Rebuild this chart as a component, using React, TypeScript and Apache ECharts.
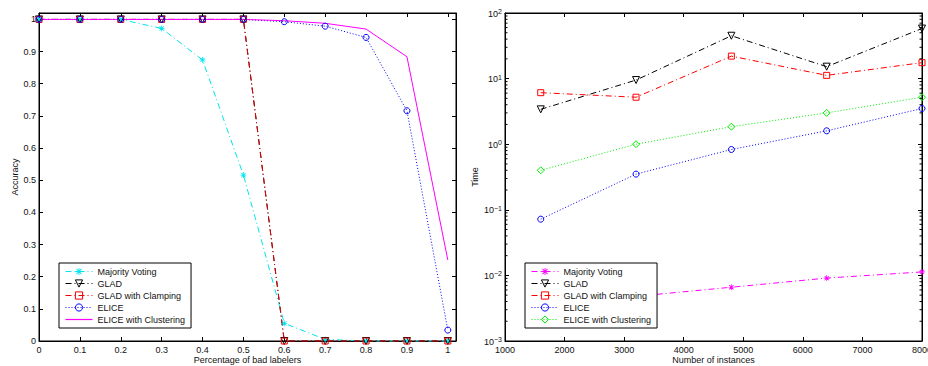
import React, { useEffect, useRef } from 'react';
import * as echarts from 'echarts';

// ---------- Data ----------
const badLabelerPct = [0, 0.1, 0.2, 0.3, 0.4, 0.5, 0.6, 0.7, 0.8, 0.9, 1];
const accMajority = [1, 1, 1, 0.972, 0.874, 0.516, 0.055, 0.005, 0, 0, 0];
const accGlad = [1, 1, 1, 1, 1, 1, 0, 0, 0, 0, 0];
const accGladClamp = [1, 1, 1, 1, 1, 1, 0, 0, 0, 0, 0];
const accElice = [1, 1, 1, 1, 1, 1, 0.993, 0.979, 0.944, 0.716, 0.034];
const accEliceCluster = [1, 1, 1, 1, 1, 1, 0.996, 0.988, 0.97, 0.884, 0.252];

const instances = [1600, 3200, 4800, 6400, 8000];
const timeMajority = [0.003, 0.0048, 0.0066, 0.0091, 0.0113];
const timeGlad = [3.4, 9.5, 45, 15.2, 58];
const timeGladClamp = [6.1, 5.2, 22, 11.2, 17.5];
const timeElice = [0.072, 0.35, 0.83, 1.6, 3.5];
const timeEliceCluster = [0.4, 1.0, 1.85, 3.0, 5.2];

const accTicks = [0, 0.1, 0.2, 0.3, 0.4, 0.5, 0.6, 0.7, 0.8, 0.9, 1];
const instTicks = [1000, 2000, 3000, 4000, 5000, 6000, 7000, 8000];
const timeTicks = [0.001, 0.01, 0.1, 1, 10, 100];
const timeMinorTicks: number[] = [];
for (let d = -3; d < 2; d++) {
  for (let m = 2; m <= 9; m++) timeMinorTicks.push(m * Math.pow(10, d));
}

const legendNames = ['Majority Voting', 'GLAD', 'GLAD with Clamping', 'ELICE', 'ELICE with Clustering'];

// ---------- Styles ----------
const FONT = 'Liberation Sans, Arial, Helvetica, sans-serif';
const TXT = '#111';
const DASHDOT = [6, 3, 1, 3];
const DOTTED = [1, 2];
const ASTERISK =
  'path://M4.4,0h1.2v10h-1.2z M0,4.4h10v1.2h-10z M1.0,1.9 L1.9,1.0 L9.0,8.1 L8.1,9.0z M8.1,1.0 L9.0,1.9 L1.9,9.0 L1.0,8.1z';

function mkSeries(
  name: string,
  xs: number[],
  ys: number[],
  color: string,
  dash: any,
  symbol: string,
  size: number,
  axis: number,
  filled = false,
  rotate = 0
) {
  return {
    type: 'line',
    name,
    xAxisIndex: axis,
    yAxisIndex: axis,
    data: xs.map((x, i) => [x, ys[i]]),
    symbol,
    symbolSize: size,
    symbolRotate: rotate,
    showSymbol: symbol !== 'none',
    lineStyle: { color, width: 1, type: dash },
    itemStyle: filled
      ? { color, borderWidth: 0 }
      : { color: 'rgba(255,255,255,0)', borderColor: color, borderWidth: 1 },
    clip: false,
    z: 2,
  };
}

const axisCommon = {
  axisLine: { show: true, onZero: false, lineStyle: { color: '#000', width: 1 } },
  axisTick: { show: true, inside: true, length: 4, lineStyle: { color: '#000', width: 1 } },
  splitLine: { show: false },
  nameMoveOverlap: false,
  nameTextStyle: { fontFamily: FONT, fontSize: 9, color: TXT },
};

const logRich = {
  b: { fontFamily: FONT, fontSize: 9, color: TXT, verticalAlign: 'bottom', lineHeight: 10 },
  s: { fontFamily: FONT, fontSize: 7, color: TXT, verticalAlign: 'top', lineHeight: 8, padding: [0, 0, 6, 0] },
};

export default function App() {
  const ref = useRef<HTMLDivElement>(null);

  useEffect(() => {
    if (!ref.current) return;
    const chart = echarts.init(ref.current, null, { renderer: 'svg' });

    const gridL = { left: 39, top: 13, width: 417, height: 328 };
    const gridR = { left: 505, top: 13, width: 417, height: 328 };

    const accLabel = (v: number) => String(Math.round(v * 10) / 10);
    const instLabel = (v: number) => String(Math.round(v));
    const logLabel = (v: number) => {
      const e = Math.round(Math.log10(v));
      return '{b|10}{s|' + (e < 0 ? '\u2212' + -e : e) + '}';
    };

    const legendCommon = {
      orient: 'vertical',
      backgroundColor: '#fff',
      borderColor: '#000',
      borderWidth: 1,
      borderRadius: 0,
      padding: [4, 6, 4, 6],
      itemWidth: 27,
      itemHeight: 9,
      itemGap: 3,
      itemStyle: { borderWidth: 1 },
      lineStyle: { width: 1 },
      textStyle: { fontFamily: FONT, fontSize: 9, color: TXT },
      selectedMode: false,
      z: 10,
    };

    const legendData = (suffix: string) =>
      legendNames.map((n, i) => {
        const item: any = { name: n + suffix };
        if (suffix === '' && i === 4) {
          item.icon = 'path://M0,4 L27,4 L27,5.2 L0,5.2 Z';
          item.itemStyle = { color: '#ff00ff', borderWidth: 0 };
        }
        return item;
      });

    const gridCommon = {
      show: true,
      borderColor: '#000',
      borderWidth: 1,
      backgroundColor: 'transparent',
      containLabel: false,
      outerBoundsMode: 'none',
    };

    const option: any = {
      animation: false,
      backgroundColor: '#fff',
      grid: [
        { ...gridL, ...gridCommon },
        { ...gridR, ...gridCommon },
      ],
      xAxis: [
        {
          ...axisCommon,
          type: 'value',
          gridIndex: 0,
          min: 0,
          max: 1.02,
          interval: 0.1,
          axisTick: { ...axisCommon.axisTick, customValues: accTicks },
          axisLabel: {
            customValues: accTicks,
            formatter: accLabel,
            fontFamily: FONT,
            fontSize: 9,
            color: TXT,
            margin: 4,
          },
          name: 'Percentage of bad labelers',
          nameLocation: 'middle',
          nameGap: 14,
        },
        {
          ...axisCommon,
          type: 'value',
          gridIndex: 0,
          position: 'top',
          min: 0,
          max: 1.02,
          interval: 0.1,
          axisTick: { ...axisCommon.axisTick, customValues: accTicks },
          axisLabel: { show: false },
        },
        {
          ...axisCommon,
          type: 'value',
          gridIndex: 1,
          min: 1000,
          max: 8000,
          interval: 1000,
          axisTick: { ...axisCommon.axisTick, customValues: instTicks },
          axisLabel: {
            customValues: instTicks,
            formatter: instLabel,
            fontFamily: FONT,
            fontSize: 9,
            color: TXT,
            margin: 4,
          },
          name: 'Number of instances',
          nameLocation: 'middle',
          nameGap: 14,
        },
        {
          ...axisCommon,
          type: 'value',
          gridIndex: 1,
          position: 'top',
          min: 1000,
          max: 8000,
          interval: 1000,
          axisTick: { ...axisCommon.axisTick, customValues: instTicks },
          axisLabel: { show: false },
        },
      ],
      yAxis: [
        {
          ...axisCommon,
          type: 'value',
          gridIndex: 0,
          min: 0,
          max: 1.02,
          interval: 0.1,
          axisTick: { ...axisCommon.axisTick, customValues: accTicks },
          axisLabel: {
            customValues: accTicks,
            formatter: accLabel,
            fontFamily: FONT,
            fontSize: 9,
            color: TXT,
            margin: 3,
          },
          name: 'Accuracy',
          nameLocation: 'middle',
          nameGap: 20,
          nameRotate: 90,
        },
        {
          ...axisCommon,
          type: 'value',
          gridIndex: 0,
          position: 'right',
          min: 0,
          max: 1.02,
          interval: 0.1,
          axisTick: { ...axisCommon.axisTick, customValues: accTicks },
          axisLabel: { show: false },
        },
        {
          ...axisCommon,
          type: 'log',
          logBase: 10,
          gridIndex: 1,
          min: 0.001,
          max: 100,
          axisTick: { ...axisCommon.axisTick, customValues: timeTicks },
          axisLabel: {
            customValues: timeTicks,
            formatter: logLabel,
            rich: logRich,
            margin: 3,
          },
          name: 'Time',
          nameLocation: 'middle',
          nameGap: 26,
          nameRotate: 90,
        },
        {
          ...axisCommon,
          type: 'log',
          logBase: 10,
          gridIndex: 1,
          position: 'right',
          min: 0.001,
          max: 100,
          axisTick: { ...axisCommon.axisTick, customValues: timeTicks },
          axisLabel: { show: false },
        },
      ],
      legend: [
        {
          ...legendCommon,
          left: 59,
          top: 263,
          data: legendData(''),
        },
        {
          ...legendCommon,
          left: 525,
          top: 263,
          data: legendData('__r'),
          formatter: (n: string) => n.replace('__r', ''),
        },
      ],
      series: [
        mkSeries(legendNames[0], badLabelerPct, accMajority, '#00e5ee', DASHDOT, ASTERISK, 6, 0, true),
        mkSeries(legendNames[1], badLabelerPct, accGlad, '#000000', DASHDOT, 'triangle', 7, 0, false, 180),
        mkSeries(legendNames[2], badLabelerPct, accGladClamp, '#ee0000', DASHDOT, 'rect', 6, 0),
        mkSeries(legendNames[3], badLabelerPct, accElice, '#0000ff', DOTTED, 'circle', 6, 0),
        mkSeries(legendNames[4], badLabelerPct, accEliceCluster, '#ff00ff', 'solid', 'none', 0, 0),
        mkSeries(legendNames[0] + '__r', instances, timeMajority, '#ff00ff', DASHDOT, ASTERISK, 6, 2, true),
        mkSeries(legendNames[1] + '__r', instances, timeGlad, '#000000', DASHDOT, 'triangle', 7, 2, false, 180),
        mkSeries(legendNames[2] + '__r', instances, timeGladClamp, '#ff0000', DASHDOT, 'rect', 6, 2),
        mkSeries(legendNames[3] + '__r', instances, timeElice, '#0000ff', DOTTED, 'circle', 6, 2),
        mkSeries(legendNames[4] + '__r', instances, timeEliceCluster, '#00ee00', DOTTED, 'diamond', 7, 2),
        {
          type: 'custom',
          xAxisIndex: 2,
          yAxisIndex: 2,
          silent: true,
          clip: false,
          z: 3,
          data: timeMinorTicks.map((v) => [1000, v]),
          renderItem: (params: any, api: any) => {
            const v = api.value(1);
            const pl = api.coord([1000, v]);
            const pr = api.coord([8000, v]);
            return {
              type: 'group',
              children: [
                { type: 'line', shape: { x1: pl[0], y1: pl[1], x2: pl[0] + 2.5, y2: pl[1] }, style: { stroke: '#000', lineWidth: 1 } },
                { type: 'line', shape: { x1: pr[0], y1: pr[1], x2: pr[0] - 2.5, y2: pr[1] }, style: { stroke: '#000', lineWidth: 1 } },
              ],
            };
          },
        },
      ],
    };

    chart.setOption(option);
    return () => chart.dispose();
  }, []);

  return (
    <div
      ref={ref}
      style={{ position: 'fixed', left: 0, top: 0, width: 928, height: 366, overflow: 'hidden', background: '#fff' }}
    />
  );
}
